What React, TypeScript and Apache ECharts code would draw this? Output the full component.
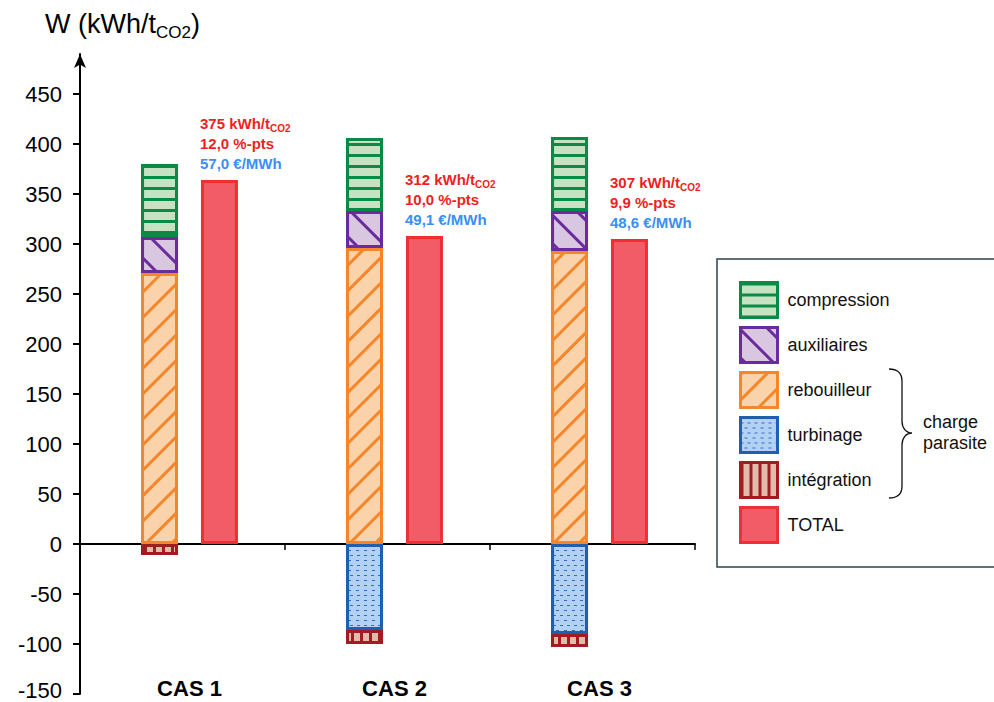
import React, { useEffect, useRef } from 'react';
import * as echarts from 'echarts';

// ---------- data ----------
const categories = ['CAS 1', 'CAS 2', 'CAS 3'];
const compression = [73, 73, 74];
const auxiliaires = [36, 37, 40];
const rebouilleur = [271, 296, 293];
const turbinage: (number | string)[] = ['-', -86, -90];
const integration = [-11, -14, -13];
const total = [364, 308, 305];
const annotEnergy = ['375', '312', '307'];
const annotPts = ['12,0', '10,0', '9,9'];
const annotCost = ['57,0', '49,1', '48,6'];
const yTicks = [-150, -100, -50, 0, 50, 100, 150, 200, 250, 300, 350, 400, 450];
const yMin = -150;
const yMax = 490;
const legendNames = ['compression', 'auxiliaires', 'rebouilleur', 'turbinage', 'intégration', 'TOTAL'];

const FONT = '"Liberation Sans", Arial, sans-serif';

echarts.graphic.registerShape(
  'brace',
  echarts.graphic.extendPath(
    'M0,0 C8,0 13,4 13,12 L13,52 C13,59 17,64 23,64 C17,64 13,69 13,76 L13,117 C13,125 8,129 0,129',
    {}
  )
);

export default function App() {
  const ref = useRef<HTMLDivElement>(null);
  useEffect(() => {
    if (!ref.current) return;
    const chart = echarts.init(ref.current, null, { renderer: 'svg' });
    const barBase = {
      type: 'bar',
      xAxisIndex: 1,
      yAxisIndex: 1,
      barWidth: 37,
      barGap: '62%',
    };
    const option: any = {
      animation: false,
      backgroundColor: '#ffffff',
      textStyle: { fontFamily: FONT },
      grid: [
        { left: 80, top: 54, width: 615, height: 640, outerBoundsMode: 'none', containLabel: false },
        { left: 87, top: 54, width: 615, height: 640, outerBoundsMode: 'none', containLabel: false },
      ],
      xAxis: [
        {
          type: 'category',
          gridIndex: 0,
          data: categories,
          axisLine: { onZero: true, lineStyle: { color: '#000', width: 2 } },
          axisTick: { show: true, length: 6, lineStyle: { color: '#000', width: 1.5 } },
          axisLabel: { show: false },
          splitLine: { show: false },
        },
        {
          type: 'category',
          gridIndex: 1,
          data: categories,
          axisLine: { show: false, onZero: false },
          axisTick: { show: false },
          axisLabel: { fontSize: 22, fontWeight: 'bold', color: '#000', margin: -17, fontFamily: FONT },
          splitLine: { show: false },
        },
      ],
      yAxis: [
        {
          type: 'value',
          gridIndex: 0,
          min: yMin,
          max: yMax,
          axisLine: {
            show: true,
            lineStyle: { color: '#000', width: 2 },
            symbol: ['none', 'arrow'],
            symbolSize: [9, 14],
          },
          axisTick: { show: true, length: 7, customValues: yTicks, lineStyle: { color: '#000', width: 2 } },
          axisLabel: {
            fontSize: 22,
            color: '#000',
            margin: 18,
            customValues: yTicks,
            fontFamily: FONT,
            formatter: (v: number) => (v === yMin ? `{low|${v}}` : `${v}`),
            rich: {
              low: { fontSize: 22, color: '#000', fontFamily: FONT, padding: [0, 0, 8, 0] },
            },
          },
          splitLine: { show: false },
        },
        { type: 'value', gridIndex: 1, min: yMin, max: yMax, show: false, splitLine: { show: false } },
      ],
      legend: {
        data: legendNames,
        orient: 'vertical',
        left: 717,
        top: 259,
        padding: [22, 150, 23, 22],
        itemWidth: 37,
        itemHeight: 35,
        itemGap: 7,
        icon: 'rect',
        selectedMode: false,
        borderColor: '#2a4545',
        borderWidth: 1.5,
        itemStyle: { borderWidth: 3 },
        textStyle: { fontSize: 18, color: '#111', fontFamily: FONT, padding: [0, 0, 0, 5] },
      },
      graphic: [
        {
          type: 'text',
          left: 45,
          top: 10,
          z: 100,
          style: {
            text: '{a|W (kWh/t}{s|CO2}{a|)}',
            rich: {
              a: { fontSize: 27, lineHeight: 34, verticalAlign: 'middle', fill: '#000', fontFamily: FONT },
              s: { fontSize: 17, lineHeight: 17, verticalAlign: 'bottom', fill: '#000', fontFamily: FONT },
            },
          },
        },
        {
          type: 'brace',
          x: 889,
          y: 369,
          z: 100,
          style: { stroke: '#111', lineWidth: 1.3, fill: 'none' },
        },
        {
          type: 'text',
          left: 923,
          top: 411,
          z: 100,
          style: { text: 'charge\nparasite', fontSize: 18, lineHeight: 21, fill: '#111', fontFamily: FONT },
        },
      ],
      series: [
        {
          ...barBase,
          name: 'rebouilleur',
          stack: 'w',
          data: rebouilleur,
          itemStyle: {
            color: '#fbd3ab',
            borderColor: '#f5862b',
            borderWidth: 3,
            decal: { symbol: 'rect', symbolSize: 1, color: '#f5862b', dashArrayX: [1, 0], dashArrayY: [3, 15], rotation: -Math.PI / 4 },
          },
        },
        {
          ...barBase,
          name: 'turbinage',
          stack: 'w',
          data: turbinage,
          itemStyle: {
            color: '#b3d1f3',
            borderColor: '#1f5faf',
            borderWidth: 3,
            decal: { symbol: 'rect', symbolSize: 1, color: '#2b6cc4', dashArrayX: [[3, 4], [0, 3.5, 3, 0.5]], dashArrayY: [1, 3.5], rotation: 0 },
          },
        },
        {
          ...barBase,
          name: 'intégration',
          stack: 'w',
          data: integration,
          itemStyle: {
            color: '#dfbcab',
            borderColor: '#a11d22',
            borderWidth: 3,
            decal: { symbol: 'rect', symbolSize: 1, color: '#a11d22', dashArrayX: [3, 5.5], dashArrayY: [2, 0], rotation: 0 },
          },
        },
        {
          ...barBase,
          name: 'auxiliaires',
          stack: 'w',
          data: auxiliaires,
          itemStyle: {
            color: '#d9c7e1',
            borderColor: '#6a2c9c',
            borderWidth: 3,
            decal: { symbol: 'rect', symbolSize: 1, color: '#6a2c9c', dashArrayX: [1, 0], dashArrayY: [3, 17], rotation: Math.PI / 4 },
          },
        },
        {
          ...barBase,
          name: 'compression',
          stack: 'w',
          data: compression,
          itemStyle: {
            color: '#c6e2c2',
            borderColor: '#0b8a46',
            borderWidth: 3,
            decal: { symbol: 'rect', symbolSize: 1, color: '#0b8a46', dashArrayX: [1, 0], dashArrayY: [3, 8], rotation: 0 },
          },
        },
        {
          ...barBase,
          name: 'TOTAL',
          data: total,
          itemStyle: { color: '#f15c66', borderColor: '#ee3034', borderWidth: 3 },
          label: {
            show: true,
            position: [0, 0],
            align: 'left',
            verticalAlign: 'bottom',
            offset: [-1, -7],
            formatter: (p: any) =>
              `{r|${annotEnergy[p.dataIndex]} kWh/t}{s|CO2}\n{r|${annotPts[p.dataIndex]} %-pts}\n{b|${annotCost[p.dataIndex]} €/MWh}`,
            rich: {
              r: { fontSize: 15, fontWeight: 'bold', color: '#ee1f24', lineHeight: 20, verticalAlign: 'middle', fontFamily: FONT },
              s: { fontSize: 10, fontWeight: 'bold', color: '#ee1f24', lineHeight: 10, verticalAlign: 'bottom', fontFamily: FONT },
              b: { fontSize: 15, fontWeight: 'bold', color: '#3a8ef6', lineHeight: 20, verticalAlign: 'middle', fontFamily: FONT },
            },
          },
        },
      ],
    };
    chart.setOption(option);
    return () => chart.dispose();
  }, []);
  return (
    <div
      ref={ref}
      style={{ position: 'fixed', left: 0, top: 0, width: 994, height: 702, background: '#fff' }}
    />
  );
}
